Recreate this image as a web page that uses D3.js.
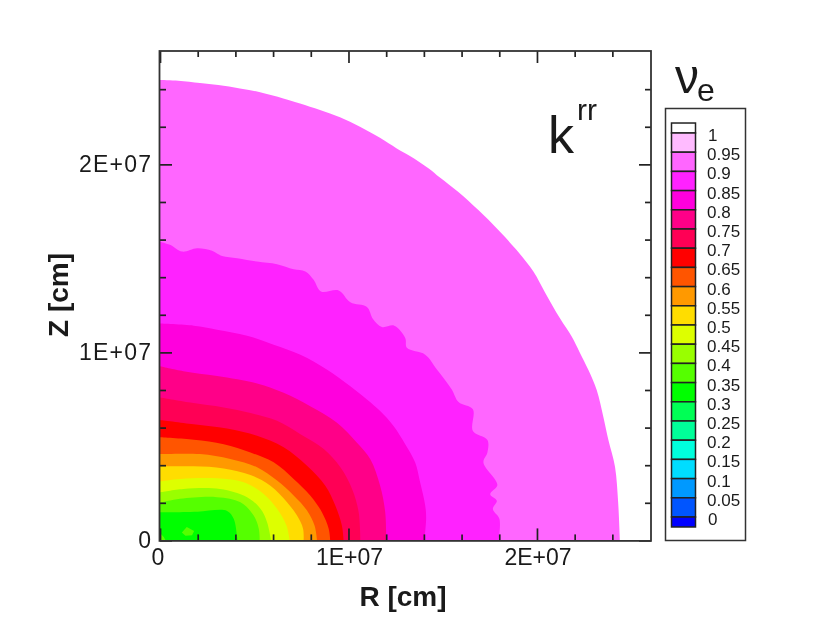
<!DOCTYPE html>
<html>
<head>
<meta charset="utf-8">
<script src="https://d3js.org/d3.v7.min.js"></script>
<style>
body { margin: 0; background: #fff; }
svg { display: block; filter: blur(0.5px); }
text { font-family: "Liberation Sans", sans-serif; fill: #1a1a1a; }
</style>
</head>
<body>
<svg id="chart" width="830" height="633"></svg>
<script>
// contour lines, [R, Z] in units of 1E+07 cm
var edge = [[0,2.449],[.097,2.445],[.212,2.433],[.309,2.422],[.424,2.404],[.531,2.384],[.654,2.351],[.743,2.324],[.849,2.289],[.955,2.25],[1.061,2.2],[1.167,2.141],[1.256,2.085],[1.326,2.045],[1.424,1.98],[1.485,1.93],[1.583,1.853],[1.689,1.757],[1.795,1.651],[1.892,1.544],[1.981,1.43],[2.042,1.32],[2.122,1.181],[2.185,1.083],[2.225,1.004],[2.273,.906],[2.317,.8],[2.352,.658],[2.379,.534],[2.414,.392],[2.431,.197],[2.44,0]];
var c90 = [[0,1.589],[.056,1.571],[.117,1.536],[.197,1.554],[.276,1.541],[.329,1.513],[.409,1.501],[.515,1.483],[.621,1.469],[.709,1.442],[.771,1.43],[.815,1.386],[.854,1.324],[.948,1.329],[1.01,1.266],[1.098,1.241],[1.13,1.177],[1.177,1.135],[1.243,1.142],[1.301,1.077],[1.31,1.024],[1.407,.988],[1.469,.909],[1.548,.803],[1.584,.736],[1.66,.697],[1.66,.582],[1.737,.534],[1.737,.467],[1.716,.414],[1.79,.294],[1.752,.246],[1.787,.211],[1.766,.167],[1.801,.114],[1.796,0]];
var c85 = [[0,1.153],[.179,1.142],[.303,1.121],[.462,1.089],[.603,1.041],[.745,.988],[.887,.908],[1.01,.82],[1.098,.749],[1.168,.688],[1.239,.609],[1.301,.512],[1.354,.414],[1.38,.309],[1.407,.186],[1.412,.115],[1.402,0]];
var c80 = [[0,.926],[.124,.9],[.303,.874],[.515,.835],[.656,.785],[.797,.714],[.939,.626],[1.045,.52],[1.116,.432],[1.168,.291],[1.195,.149],[1.2,0]];
var c75 = [[0,.76],[.161,.733],[.338,.707],[.48,.677],[.621,.636],[.745,.565],[.869,.486],[.957,.389],[1.019,.274],[1.054,.15],[1.063,0]];
var c70 = [[0,.641],[.179,.618],[.356,.595],[.515,.556],[.656,.495],[.78,.397],[.877,.291],[.93,.186],[.965,.079],[.974,0]];
var c65 = [[0,.548],[.179,.535],[.338,.512],[.48,.468],[.603,.415],[.709,.327],[.797,.239],[.859,.15],[.895,.062],[.903,0]];
var c60 = [[0,.459],[.212,.459],[.373,.433],[.515,.389],[.621,.318],[.709,.239],[.78,.159],[.82,.079],[.833,0]];
var c55 = [[0,.394],[.179,.394],[.338,.383],[.48,.348],[.586,.291],[.674,.203],[.727,.132],[.759,.062],[.762,0]];
var c50 = [[0,.314],[.108,.327],[.303,.33],[.444,.309],[.55,.247],[.621,.168],[.671,.079],[.688,0]];
var c45 = [[0,.256],[.124,.274],[.318,.274],[.462,.23],[.533,.168],[.568,.097],[.589,0]];
var c40 = [[0,.2],[.106,.221],[.303,.23],[.427,.203],[.497,.132],[.524,.062],[.529,0]];
var c35 = [[0,.15],[.056,.15],[.2,.153],[.356,.157],[.391,.115],[.409,.02],[.412,0]];

var contours = [edge, c90, c85, c80, c75, c70, c65, c60, c55, c50, c45, c40, c35];
var contourColors = ["#ff66ff","#ff22ff","#ff00dd","#ff0088","#ff0055","#ff0000","#ff5500","#ff9900","#ffdd00","#ddff00","#99ff00","#55ff00","#00ff00"];

// the two small patches above 0.35 inside the green core
var spotA = [[.116,.042],[.142,.071],[.181,.05],[.17,.027],[.135,.025]];
var spotB = [[0,.04],[.02,.018],[.03,0],[0,0]];
var spots = [spotA, spotB];

// legend
var levels = [1,0.95,0.9,0.85,0.8,0.75,0.7,0.65,0.6,0.55,0.5,0.45,0.4,0.35,0.3,0.25,0.2,0.15,0.1,0.05,0];
var legendColors = ["#ffffff","#ffbbff","#ff66ff","#ff22ff","#ff00dd","#ff0088","#ff0055","#ff0000","#ff5500","#ff9900","#ffdd00","#ddff00","#99ff00","#55ff00","#00ff00","#00ff55","#00ff99","#00ffdd","#00ddff","#0099ff","#0055ff","#0000ff"];
var legendEdges = [1.026].concat(levels, [-0.026]);

// ticks
var majorTicks = [0,1,2];
var minorTicks = [0.2,0.4,0.6,0.8,1.2,1.4,1.6,1.8,2.2,2.4];
var tickLabels = ["0","1E+07","2E+07"];

var svg = d3.select("#chart");

var x = d3.scaleLinear().domain([0,2.605]).range([160,651]);
var y = d3.scaleLinear().domain([0,2.603]).range([540.4,51]);
var legendY = d3.scaleLinear().domain([0,1]).range([517,133]);

var line = d3.line()
    .x(function(d){ return x(d[0]); })
    .y(function(d){ return y(d[1]); })
    .curve(d3.curveCatmullRom);
var straight = d3.line()
    .x(function(d){ return x(d[0]); })
    .y(function(d){ return y(d[1]); });

// filled bands, outermost first
svg.selectAll(".band").data(contours).enter().append("path")
    .attr("class","band")
    .attr("d",function(d){ return line(d) + "L" + x(0) + "," + y(0) + "Z"; })
    .attr("fill",function(d,i){ return contourColors[i]; });

svg.selectAll(".spot").data(spots).enter().append("path")
    .attr("class","spot")
    .attr("d",function(d){ return straight(d) + "Z"; })
    .attr("fill","#55ff00");

var label = function(d){ return tickLabels[majorTicks.indexOf(d)]; };

// ticks all point inward, on all four sides
var addTicks = function(make,scale,px,py){
    [[minorTicks,6],[majorTicks,12]].forEach(function(t){
	var g = svg.append("g").attr("transform","translate("+px+","+py+")")
	    .call(make(scale).tickValues(t[0]).tickSize(-t[1]).tickFormat(""));
	g.select(".domain").remove();
	g.selectAll("line").attr("stroke","#222").attr("stroke-width",1.7);
    });
};
addTicks(d3.axisBottom,x,0,y(0));
addTicks(d3.axisTop,x,0,51);
addTicks(d3.axisLeft,y,160,0);
addTicks(d3.axisRight,y,651,0);

// frame
svg.append("rect")
    .attr("x",x(0)-0.5).attr("y",51)
    .attr("width",x.range()[1]-x(0)+0.5).attr("height",y(0)-50.5)
    .attr("fill","none").attr("stroke","#333").attr("stroke-width",1.8);

// tick labels
svg.selectAll(".xlab").data(majorTicks).enter().append("text")
    .attr("class","xlab")
    .attr("x",function(d){ return d == 0 ? x(d) - 2 : x(d) + 1; })
    .attr("y",565)
    .attr("text-anchor","middle")
    .attr("font-size",23)
    .text(label);
svg.selectAll(".ylab").data(majorTicks).enter().append("text")
    .attr("class","ylab")
    .attr("x",151)
    .attr("y",function(d){ return y(d) + 8; })
    .attr("text-anchor","end")
    .attr("font-size",23)
    .attr("textLength",function(d){ return d == 0 ? null : 72; })
    .text(label);

// axis titles
svg.append("text")
    .attr("x",403).attr("y",606)
    .attr("text-anchor","middle")
    .attr("font-size",28).attr("font-weight","bold")
    .text("R [cm]");
svg.append("text")
    .attr("transform","translate(68,295) rotate(-90)")
    .attr("text-anchor","middle")
    .attr("font-size",28).attr("font-weight","bold")
    .text("Z [cm]");

// k^rr
svg.append("text").attr("x",548).attr("y",153).attr("font-size",52).text("k");
svg.append("text").attr("x",577).attr("y",120).attr("font-size",30).text("rr");

// nu_e
svg.append("text").attr("x",675).attr("y",93).attr("font-size",48).text("ν");
svg.append("text").attr("x",697).attr("y",101).attr("font-size",32).text("e");

// legend
svg.append("rect")
    .attr("x",665.5).attr("y",108.5).attr("width",80).attr("height",432)
    .attr("fill","#fff").attr("stroke","#333").attr("stroke-width",1.5);
svg.selectAll(".swatch").data(legendColors).enter().append("rect")
    .attr("class","swatch")
    .attr("x",671.5).attr("width",24)
    .attr("y",function(d,i){ return legendY(legendEdges[i]); })
    .attr("height",function(d,i){ return legendY(legendEdges[i+1]) - legendY(legendEdges[i]); })
    .attr("fill",function(d){ return d; })
    .attr("stroke","#222").attr("stroke-width",1.5);
svg.selectAll(".level").data(levels).enter().append("text")
    .attr("class","level")
    .attr("x",function(d){ return d == 1 || d == 0 ? 708 : 707; })
    .attr("y",function(d){ return legendY(d) + 8; })
    .attr("font-size",17)
    .text(function(d){ return d; });
</script>
</body>
</html>
